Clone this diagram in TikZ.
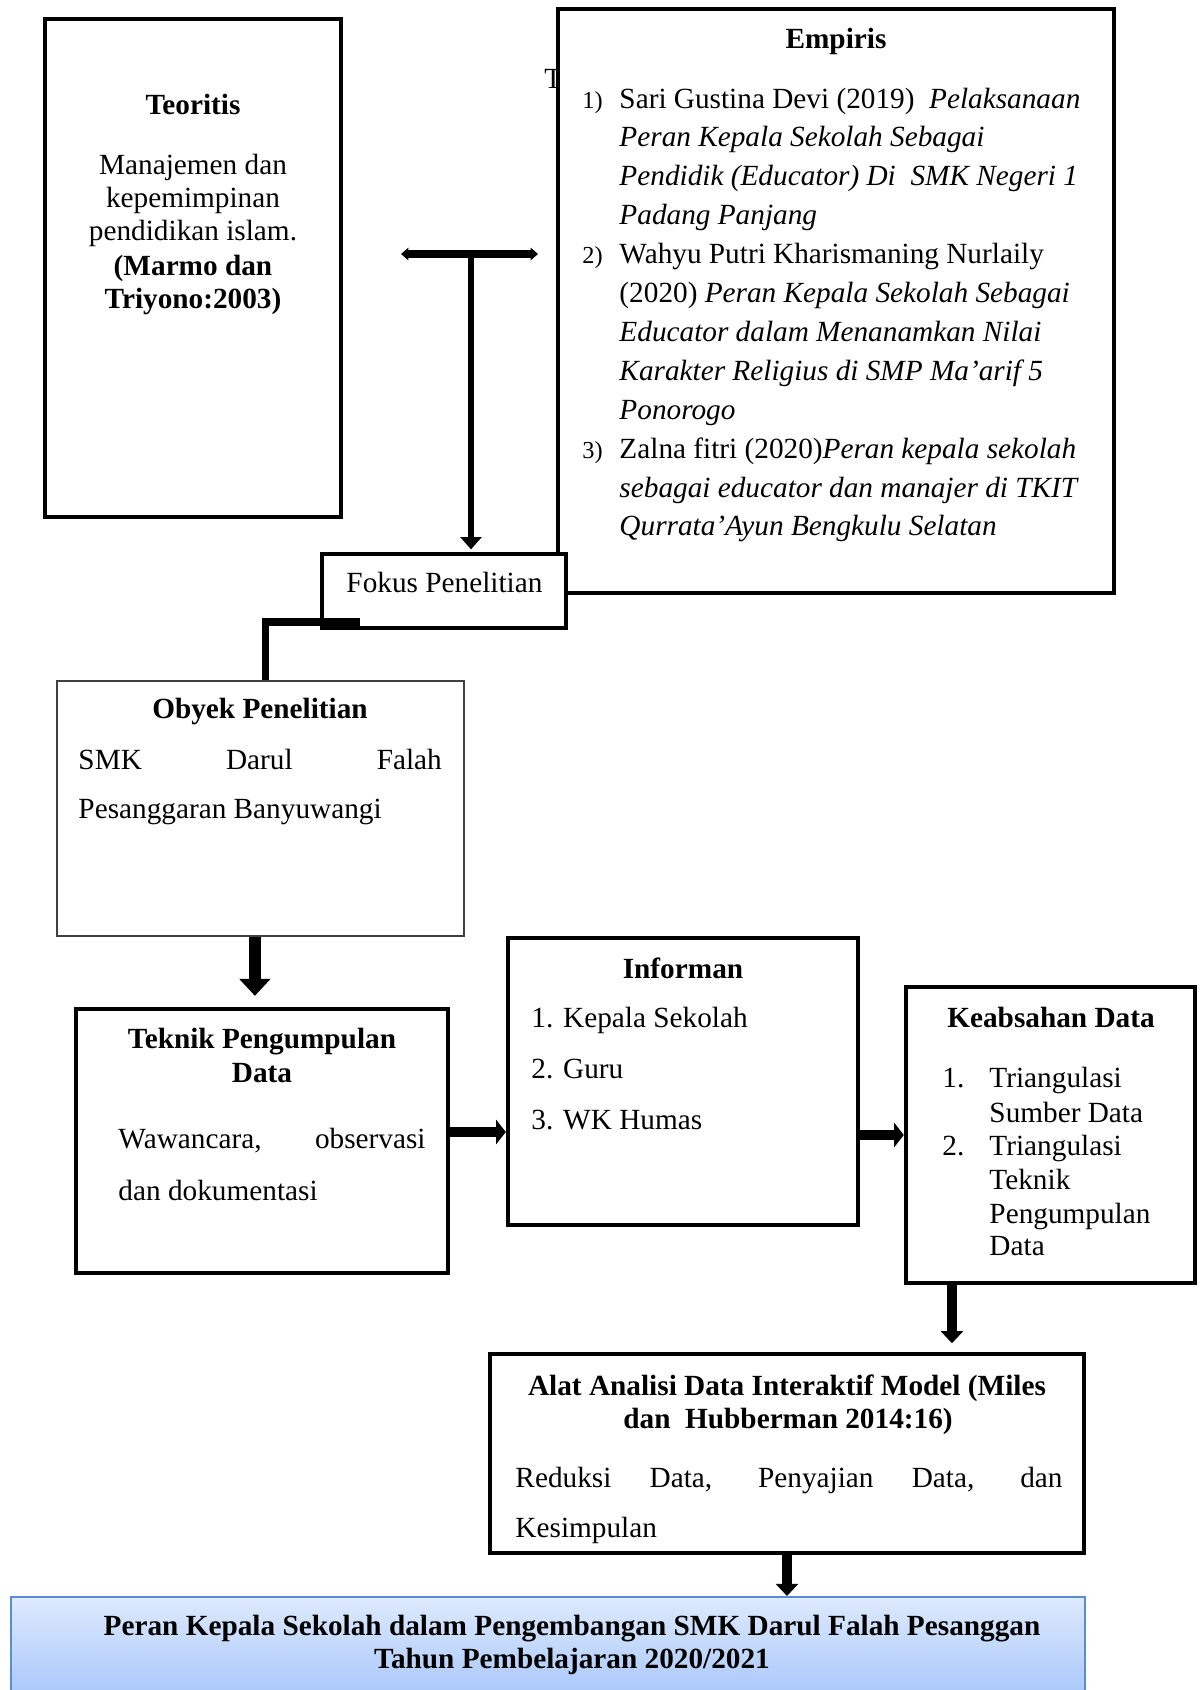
\documentclass[tikz,border=0pt]{standalone}
\usepackage{fontspec}
\setmainfont{Liberation Serif}
\usetikzlibrary{arrows.meta,fit}
\definecolor{boxblue}{RGB}{91,139,208}
\definecolor{shadetop}{RGB}{222,234,253}
\definecolor{shadebot}{RGB}{166,198,250}
\tikzset{
  frame/.style={draw,line width=1.8pt,inner sep=0pt,fill=white},
  thinframe/.style={draw=black!75,line width=0.6pt,inner sep=0pt},
  txt/.style={anchor=base,inner sep=0pt,font=\fontsize{12pt}{14pt}\selectfont},
  txtl/.style={txt,anchor=base west},
  numl/.style={anchor=base west,inner sep=0pt,font=\fontsize{10pt}{12pt}\selectfont},
  bigarrow/.style={line width=5pt,-{Triangle[width=12.5pt,length=7pt]}},
  sidearrow/.style={line width=4pt,-{Triangle[width=10pt,length=4pt]}},
  downarrow/.style={line width=4pt,-{Triangle[width=9pt,length=5pt]}},
}
\newcommand{\spread}[2]% width, text
{\makebox[#1][s]{#2}}

\begin{document}
\begin{tikzpicture}[x=0.41pt,y=-0.41pt]
\useasboundingbox (0,0) rectangle (1203,1690);
\clip (0,0) rectangle (1203,1690);
% teoritis
\node[frame,fit={(45,19) (341,517)}] (teoritis) {};
\node[txt] (teo0) at (193,114) {\bfseries Teoritis};
\node[txt] (teo1) at (193,174) {Manajemen dan};
\node[txt] (teo2) at (193,207) {kepemimpinan};
\node[txt] (teo3) at (193,240) {pendidikan islam.};
\node[txt] (teo4) at (193,275) {\bfseries (Marmo dan};
\node[txt] (teo5) at (193,308) {\bfseries Triyono:2003)};
% empiris
\node[txtl] (stray) at (544,88) {T};
\node[frame,fit={(558,9) (1114,593)}] (empiris) {};
\node[txt] (emp0) at (836,48) {\bfseries Empiris};
\node[numl] (n1) at (582,108) {1)};
\node[numl] (n2) at (582,263.6) {2)};
\node[numl] (n3) at (582,458.1) {3)};
\node[txtl] (e1) at (619,108) {Sari Gustina Devi (2019)~~\textit{Pelaksanaan}};
\node[txtl] (e2) at (619,146.9) {\textit{Peran Kepala Sekolah Sebagai}};
\node[txtl] (e3) at (619,185.8) {\textit{Pendidik (Educator) Di~~SMK Negeri 1}};
\node[txtl] (e4) at (619,224.7) {\textit{Padang Panjang}};
\node[txtl] (e5) at (619,263.6) {Wahyu Putri Kharismaning Nurlaily};
\node[txtl] (e6) at (619,302.5) {(2020) \textit{Peran Kepala Sekolah Sebagai}};
\node[txtl] (e7) at (619,341.4) {\textit{Educator dalam Menanamkan Nilai}};
\node[txtl] (e8) at (619,380.3) {\textit{Karakter Religius di SMP Ma’arif 5}};
\node[txtl] (e9) at (619,419.2) {\textit{Ponorogo}};
\node[txtl] (e10) at (619,458.1) {Zalna fitri (2020)\textit{Peran kepala sekolah}};
\node[txtl] (e11) at (619,497) {\textit{sebagai educator dan manajer di TKIT}};
\node[txtl] (e12) at (619,535.9) {\textit{Qurrata’Ayun Bengkulu Selatan}};
% fokus
\node[frame,fit={(322,554) (566,628)}] (fokus) {};
\node[txtl] (fokustxt) at (346,592) {Fokus Penelitian};
\coordinate (tbarL) at (401,254);
\coordinate (tbarR) at (538,254);
\coordinate (tstem) at (471,254);
\draw[line width=3.3pt,{Triangle[width=5pt,length=3pt]}-{Triangle[width=5pt,length=3pt]}] (tbarL) -- (tbarR);
\draw[line width=2.5pt,-{Triangle[width=8.5pt,length=5pt]},shorten >=1pt] (tstem) -- (tstem |- fokus.north);
% obyek
\node[thinframe,fit={(57,681) (464,936)}] (obyek) {};
\node[txt] (oby0) at (260,718) {\bfseries Obyek Penelitian};
\node[txtl] (oby1) at (78,769) {\spread{149pt}{SMK Darul Falah}};
\node[txtl] (oby2) at (78,818) {Pesanggaran Banyuwangi};
\coordinate (fk) at (360,622);
\draw[line width=3pt] (fk) -| ([xshift=2pt]obyek.north);
% teknik
\node[frame,fit={(76,1009) (448,1273)}] (teknik) {};
\node[txt] (tek0) at (262,1048) {\bfseries Teknik Pengumpulan};
\node[txt] (tek1) at (262,1082) {\bfseries Data};
\node[txtl] (tek2) at (118,1148) {\spread{125.9pt}{Wawancara, observasi}};
\node[txtl] (tek3) at (118,1200) {dan dokumentasi};
\draw[bigarrow,shorten >=4.5pt] ([xshift=-2.3pt]obyek.south) -- ([xshift=-2.3pt]obyek.south |- teknik.north);
% informan
\node[frame,fit={(508,938) (858,1225)}] (informan) {};
\node[txt] (inf0) at (683,978) {\bfseries Informan};
\node[txtl] (inf1) at (531,1027) {1. Kepala Sekolah};
\node[txtl] (inf2) at (531,1078) {2. Guru};
\node[txtl] (inf3) at (531,1129) {3. WK Humas};
\draw[sidearrow] ([yshift=3.7pt]teknik.east) -- ([yshift=3.7pt]teknik.east -| informan.west);
% keabsahan
\node[frame,fit={(906,987) (1195,1283)}] (keabsahan) {};
\node[txt] (kea0) at (1051,1027) {\bfseries Keabsahan Data};
\node[txtl] (kn1) at (942,1087) {1.};
\node[txtl] (kn2) at (942,1155) {2.};
\node[txtl] (kea1) at (989,1087) {Triangulasi};
\node[txtl] (kea2) at (989,1122) {Sumber Data};
\node[txtl] (kea3) at (989,1155) {Triangulasi};
\node[txtl] (kea4) at (989,1189) {Teknik};
\node[txtl] (kea5) at (989,1223) {Pengumpulan};
\node[txtl] (kea6) at (989,1255) {Data};
\draw[sidearrow] (informan.east |- keabsahan.west) -- (keabsahan.west);
% alat analisis
\node[frame,fit={(490,1354) (1084,1553)}] (alat) {};
\node[txt] (ala0) at (787,1395) {\bfseries Alat Analisi Data Interaktif Model (Miles};
\node[txt] (ala1) at (788,1428) {\bfseries dan~~Hubberman 2014:16)};
\node[txtl] (ala2) at (515,1487) {\spread{224.3pt}{Reduksi Data, Penyajian Data, dan}};
\node[txtl] (ala3) at (515,1537) {Kesimpulan};
\draw[downarrow,shorten >=3.5pt] ([xshift=-40.4pt]keabsahan.south) -- ([xshift=-40.4pt]keabsahan.south |- alat.north);
% hasil
\node[fit={(11,1597) (1085,1700)},draw=boxblue,line width=0.8pt,top color=shadetop,bottom color=shadebot,inner sep=0pt] (final) {};
\node[txt] (fin0) at (572,1635) {\bfseries Peran Kepala Sekolah dalam Pengembangan SMK Darul Falah Pesanggan};
\node[txt] (fin1) at (572,1668) {\bfseries Tahun Pembelajaran 2020/2021};
\draw[downarrow] (alat.south) -- (alat.south |- final.north);
\end{tikzpicture}
\end{document}
